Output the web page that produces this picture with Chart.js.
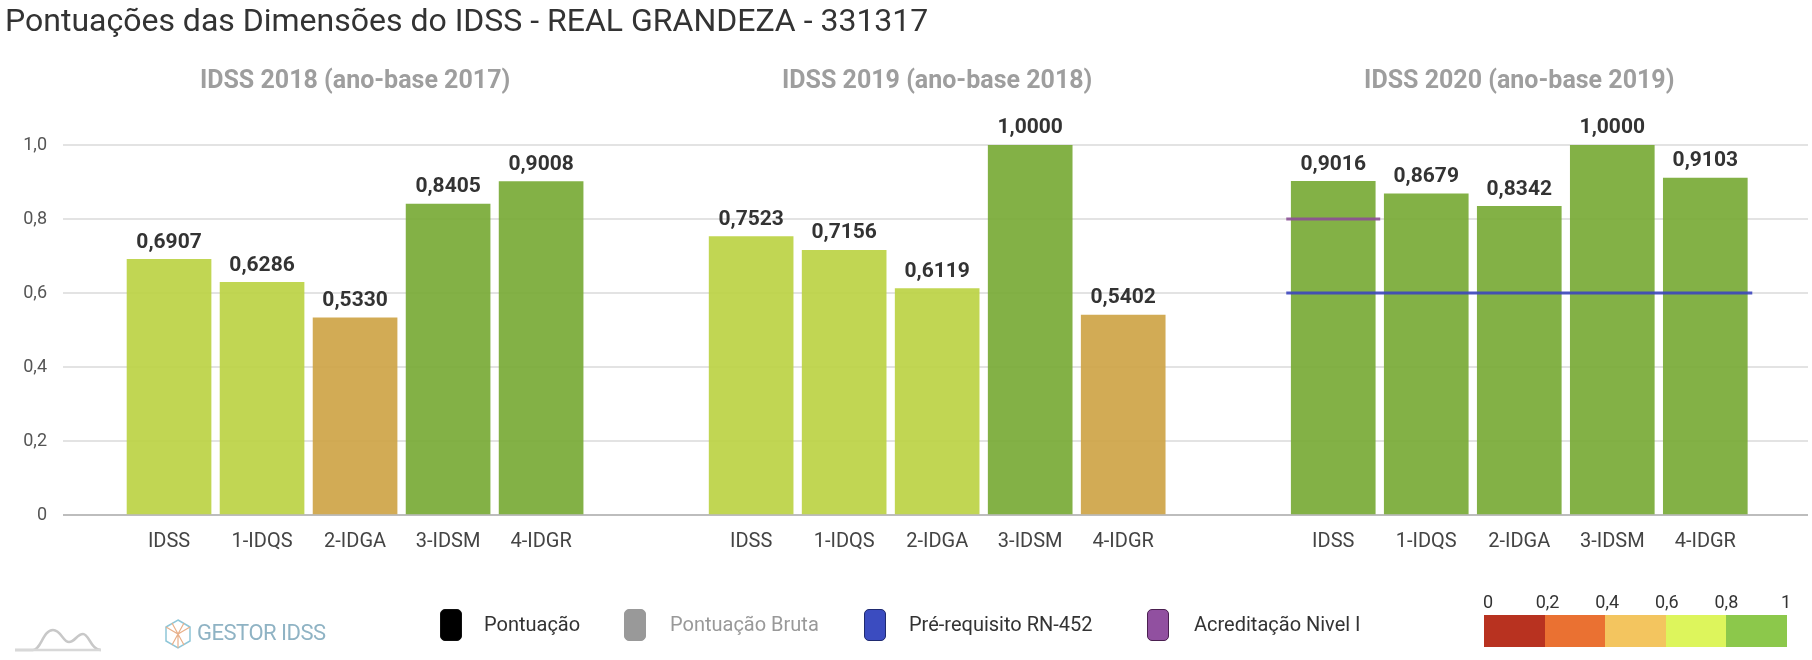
<!DOCTYPE html>
<html lang="pt">
<head>
<meta charset="UTF-8">
<title>Pontuações das Dimensões do IDSS</title>
<script src="https://cdn.jsdelivr.net/npm/chart.js"></script>
<style>
  body { margin: 0; background: #fff; font-family: Roboto, "Noto Sans", sans-serif; }
  #wrap { position: relative; width: 1812px; height: 660px; overflow: hidden; }
  #title { position: absolute; left: 5px; top: 1px; font-size: 32px; color: #333; white-space: nowrap; }
  #chartBox { position: absolute; left: 0; top: 0; width: 1812px; height: 660px; }
  .abs { position: absolute; white-space: nowrap; }
  .sq { position: absolute; top: 609px; width: 20px; height: 30px; border-radius: 5px; border: 1px solid; }
  .lg { position: absolute; top: 612px; font-size: 20px; color: #333; }
  .scl { position: absolute; top: 615px; height: 32px; width: 61px; }
  .sclab { position: absolute; top: 591px; font-size: 18px; color: #333; transform: translateX(-50%); }
</style>
</head>
<body>
<div id="wrap">
  <div id="chartBox"><canvas id="myChart"></canvas></div>
  <div id="title">Pontuações das Dimensões do IDSS - REAL GRANDEZA - 331317</div>

  <svg class="abs" style="left:13px;top:624px" width="90" height="28" viewBox="0 0 90 28">
    <path d="M2 26 H20 C28 26 30 6 40 6 C48 6 50 18 56 18 C62 18 64 10 70 10 C76 10 78 26 88 26" fill="none" stroke="#c8c8c8" stroke-width="2.5"/>
    <path d="M2 26 H88" stroke="#d8d8d8" stroke-width="2.5"/>
  </svg>
  <svg class="abs" style="left:162px;top:618px" width="32" height="32" viewBox="0 0 32 32">
    <polygon points="16,2 28,9 28,23 16,30 4,23 4,9" fill="none" stroke="#8ec6d8" stroke-width="1.5"/>
    <path d="M4 9 L16 16 L28 9 M16 16 V30 M10 5 L22 27 M22 5 L10 27" fill="none" stroke="#e8b08a" stroke-width="1.2"/>
  </svg>
  <div class="abs" style="left:197px;top:620px;font-size:22px;color:#8fb3c4;letter-spacing:-0.5px">GESTOR IDSS</div>

  <div class="sq" style="left:440px;background:#000;border-color:#111"></div>
  <div class="lg" style="left:484px">Pontuação</div>
  <div class="sq" style="left:624px;background:#999;border-color:#999"></div>
  <div class="lg" style="left:670px;color:#999">Pontuação Bruta</div>
  <div class="sq" style="left:864px;background:#3b4cc0;border-color:#1f2a70"></div>
  <div class="lg" style="left:909px">Pré-requisito RN-452</div>
  <div class="sq" style="left:1147px;background:#9150a0;border-color:#4a2050"></div>
  <div class="lg" style="left:1194px">Acreditação Nivel I</div>

  <div id="scale"></div>
</div>
<script>
// dados
const categorias = ["IDSS", "1-IDQS", "2-IDGA", "3-IDSM", "4-IDGR"];
const paineis = ["IDSS 2018 (ano-base 2017)", "IDSS 2019 (ano-base 2018)", "IDSS 2020 (ano-base 2019)"];
const idss2018 = [0.6907, 0.6286, 0.5330, 0.8405, 0.9008];
const idss2019 = [0.7523, 0.7156, 0.6119, 1.0000, 0.5402];
const idss2020 = [0.9016, 0.8679, 0.8342, 1.0000, 0.9103];
const preRequisito = 0.6;   // RN-452, so no ultimo painel
const acreditacao = 0.8;    // Nivel I, so na barra IDSS do ultimo painel
const faixas = [0, 0.2, 0.4, 0.6, 0.8, 1];
const faixaCores = ["#b83220", "#ea7132", "#f3c55f", "#ddf55c", "#8cc84b"];
const yTicks = [0, 0.2, 0.4, 0.6, 0.8, 1.0];

const PANEL_STEP = 6.258;   // distancia entre paineis, em larguras de categoria
const series = [idss2018, idss2019, idss2020];

function corBarra(v) {
    if (v >= 0.8) return "rgba(118,168,50,0.9)";
    if (v >= 0.6) return "rgba(186,210,64,0.9)";
    if (v >= 0.4) return "rgba(205,162,66,0.9)";
    if (v >= 0.2) return "rgba(230,110,50,0.9)";
    return "rgba(180,50,30,0.9)";
}
const virgula = (v, d) => v.toFixed(d).replace(".", ",");

const pontos = [];
const posicoes = [];
series.forEach((s, p) => {
    s.forEach((v, i) => {
        const x = p * PANEL_STEP + i;
        pontos.push({ x: x, y: v });
        posicoes.push(x);
    });
});
const ultimo = 2 * PANEL_STEP;

// escala de cores (legenda)
const scaleDiv = document.getElementById("scale");
faixaCores.forEach((c, i) => {
    const d = document.createElement("div");
    d.className = "scl";
    d.style.left = (1484 + i * 60.6) + "px";
    d.style.background = c;
    scaleDiv.appendChild(d);
});
faixas.forEach((f, i) => {
    const d = document.createElement("div");
    d.className = "sclab";
    d.style.left = (1488 + i * 59.6) + "px";
    d.textContent = f === 0 || f === 1 ? String(f) : virgula(f, 1);
    scaleDiv.appendChild(d);
});

const rotulos = {
    id: "rotulos",
    afterDatasetsDraw(chart) {
        const ctx = chart.ctx;
        const xs = chart.scales.x, ys = chart.scales.y;
        ctx.save();
        ctx.textAlign = "center";
        ctx.textBaseline = "middle";
        ctx.fillStyle = "#333";
        ctx.font = "bold 21px Roboto";
        pontos.forEach(pt => {
            ctx.fillText(virgula(pt.y, 4), xs.getPixelForValue(pt.x), ys.getPixelForValue(pt.y) - 17);
        });
        ctx.fillStyle = "#9e9e9e";
        ctx.font = "bold 25px Roboto";
        paineis.forEach((t, p) => {
            ctx.fillText(t, xs.getPixelForValue(p * PANEL_STEP + 2), 82);
        });
        ctx.restore();
    }
};

new Chart(document.getElementById("myChart"), {
    data: {
        datasets: [
            {
                type: "line",
                label: "Acreditação Nivel I",
                data: [{ x: ultimo - 0.505, y: acreditacao }, { x: ultimo + 0.505, y: acreditacao }],
                borderColor: "rgba(140,80,150,0.9)",
                borderWidth: 3,
                pointRadius: 0,
                order: 0
            },
            {
                type: "line",
                label: "Pré-requisito RN-452",
                data: [{ x: ultimo - 0.505, y: preRequisito }, { x: ultimo + 4.505, y: preRequisito }],
                borderColor: "rgba(60,70,190,0.9)",
                borderWidth: 3,
                pointRadius: 0,
                order: 0
            },
            {
                type: "bar",
                label: "Pontuação",
                data: pontos,
                backgroundColor: pontos.map(p => corBarra(p.y)),
                barThickness: 84,
                grouped: false,
                order: 1
            }
        ]
    },
    options: {
        responsive: true,
        maintainAspectRatio: false,
        animation: false,
        layout: { padding: { top: 145, right: 4, bottom: 100, left: 0 } },
        plugins: {
            legend: { display: false },
            tooltip: { enabled: false }
        },
        scales: {
            x: {
                type: "linear",
                offset: false,
                min: -1.14,
                max: 17.62,
                afterBuildTicks: s => { s.ticks = posicoes.map(v => ({ value: v })); },
                afterFit: s => { s.height = 45; },
                ticks: {
                    autoSkip: false,
                    maxRotation: 0,
                    padding: 7,
                    color: "#444",
                    font: { size: 20, family: "Roboto" },
                    callback: (v, i) => categorias[i % 5]
                },
                grid: { display: false },
                border: { display: false }
            },
            y: {
                min: 0,
                max: 1,
                afterBuildTicks: s => { s.ticks = yTicks.map(v => ({ value: v })); },
                afterFit: s => { s.width = 63; },
                ticks: {
                    padding: 16,
                    color: "#555",
                    font: { size: 18, family: "Roboto" },
                    callback: v => v === 0 ? "0" : virgula(v, 1)
                },
                grid: {
                    color: c => c.tick && c.tick.value === 0 ? "#bdbdbd" : "#e3e3e3",
                    lineWidth: 2,
                    drawTicks: false
                },
                border: { display: false }
            }
        }
    },
    plugins: [rotulos]
});
</script>
</body>
</html>
